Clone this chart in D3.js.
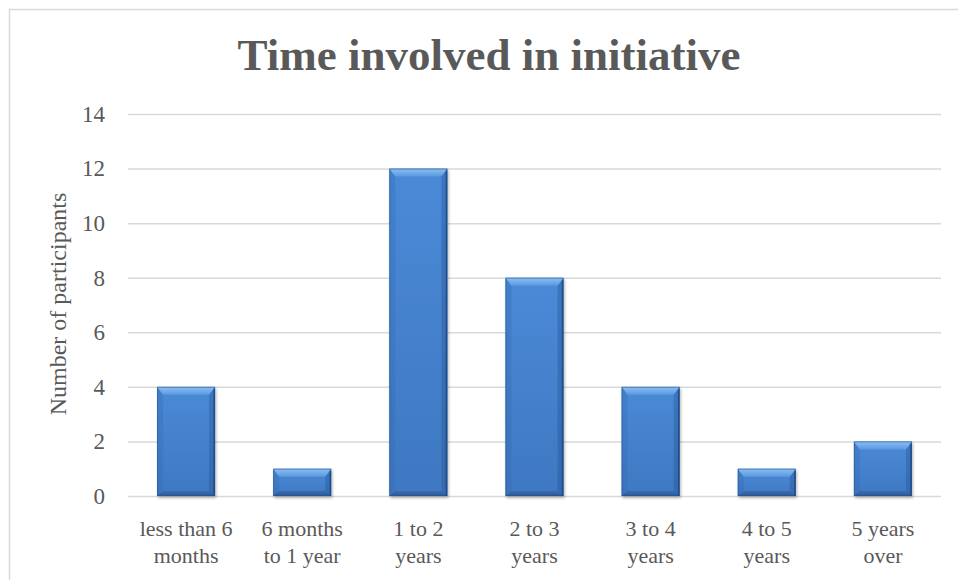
<!DOCTYPE html>
<html>
<head>
<meta charset="utf-8">
<script src="https://cdn.jsdelivr.net/npm/d3@7"></script>
<style>
  html, body { margin: 0; padding: 0; background: #fff; }
  svg { display: block; }
  text { font-family: "Liberation Serif", "DejaVu Serif", serif; fill: #595959; }
</style>
</head>
<body>
<svg id="chart" width="958" height="580"></svg>
<script>
// Participants by length of involvement
const categories = [
  ["less than 6", "months"],
  ["6 months", "to 1 year"],
  ["1 to 2", "years"],
  ["2 to 3", "years"],
  ["3 to 4", "years"],
  ["4 to 5", "years"],
  ["5 years", "over"]
];
const counts = [4, 1, 12, 8, 4, 1, 2];
const yTicks = [0, 2, 4, 6, 8, 10, 12, 14];
const chartTitle = "Time involved in initiative";
const yTitle = "Number of participants";

const svg = d3.select("#chart");
const W = 958, H = 580;
const plot = { left: 128, right: 941, top: 114, bottom: 496 };

// outer chart frame
svg.append("rect")
  .attr("x", 9.5).attr("y", 9.5)
  .attr("width", W + 20).attr("height", H + 20)
  .attr("fill", "#fff").attr("stroke", "#d9d9d9").attr("stroke-width", 1.5);

const x = d3.scaleBand()
  .domain(d3.range(categories.length))
  .range([plot.left, plot.right])
  .paddingInner(0.5).paddingOuter(0.25);

const y = d3.scaleLinear().domain([0, 14]).range([plot.bottom, plot.top]);

// gridlines and y tick labels
const yAxis = d3.axisLeft(y).tickValues(yTicks)
  .tickSize(-(plot.right - plot.left)).tickPadding(23);
const gy = svg.append("g").attr("transform", `translate(${plot.left},0)`).call(yAxis);
gy.select(".domain").remove();
gy.selectAll(".tick line").attr("stroke", "#d9d9d9").attr("stroke-width", 1.5);
gy.selectAll(".tick text")
  .attr("font-family", "Liberation Serif, serif")
  .attr("font-size", 23).attr("fill", "#595959");

// bar gradients
const defs = svg.append("defs");
const body = defs.append("linearGradient").attr("id", "barBody")
  .attr("x1", 0).attr("x2", 0).attr("y1", 0).attr("y2", 1);
body.append("stop").attr("offset", 0).attr("stop-color", "#4a8ad7");
body.append("stop").attr("offset", 1).attr("stop-color", "#3f78c2");
const topG = defs.append("linearGradient").attr("id", "barTop")
  .attr("x1", 0).attr("x2", 0).attr("y1", 0).attr("y2", 1);
topG.append("stop").attr("offset", 0).attr("stop-color", "#8cc0f2");
topG.append("stop").attr("offset", 1).attr("stop-color", "#5a98e0");
const botG = defs.append("linearGradient").attr("id", "barBot")
  .attr("x1", 0).attr("x2", 0).attr("y1", 0).attr("y2", 1);
botG.append("stop").attr("offset", 0).attr("stop-color", "#3a6db3");
botG.append("stop").attr("offset", 1).attr("stop-color", "#2b5894");
const shadow = defs.append("filter").attr("id", "barShadow")
  .attr("x", "-20%").attr("y", "-20%").attr("width", "140%").attr("height", "140%");
shadow.append("feGaussianBlur").attr("in", "SourceAlpha").attr("stdDeviation", 1.5);
shadow.append("feOffset").attr("dx", 1).attr("dy", 2).attr("result", "blur");
shadow.append("feComponentTransfer").append("feFuncA").attr("type", "linear").attr("slope", 0.3);
const merge = shadow.append("feMerge");
merge.append("feMergeNode");
merge.append("feMergeNode").attr("in", "SourceGraphic");

const bars = svg.append("g").selectAll("g.bar")
  .data(counts).join("g").attr("class", "bar")
  .attr("filter", "url(#barShadow)");

bars.each(function (v, i) {
  const g = d3.select(this);
  const x0 = x(i), x1 = x(i) + x.bandwidth();
  const y0 = y(v), y1 = y(0);
  const bt = Math.min(8, (y1 - y0) / 2);   // top bevel depth
  const bs = 6;                             // side bevel width
  const bb = Math.min(5, (y1 - y0) / 3);   // bottom bevel depth
  g.append("rect").attr("x", x0).attr("y", y0)
    .attr("width", x1 - x0).attr("height", y1 - y0).attr("fill", "url(#barBody)");
  const face = (pts, fill, op) => g.append("polygon")
    .attr("points", pts.map(p => p.join(",")).join(" "))
    .attr("fill", fill).attr("fill-opacity", op == null ? 1 : op);
  face([[x0, y0], [x0 + bs, y0 + bt], [x0 + bs, y1 - bb], [x0, y1]], "#2f62a8", 0.25);
  face([[x1, y0], [x1, y1], [x1 - bs, y1 - bb], [x1 - bs, y0 + bt]], "#1f4f90", 0.35);
  face([[x0, y0], [x1, y0], [x1 - bs, y0 + bt], [x0 + bs, y0 + bt]], "url(#barTop)");
  face([[x0, y1], [x0 + bs, y1 - bb], [x1 - bs, y1 - bb], [x1, y1]], "url(#barBot)");
  g.append("rect").attr("x", x0 + 0.5).attr("y", y0 + 0.5)
    .attr("width", x1 - x0 - 1).attr("height", y1 - y0 - 1)
    .attr("fill", "none").attr("stroke", "#27528c").attr("stroke-width", 1).attr("stroke-opacity", 0.55);
  g.append("line").attr("x1", x1 - 1).attr("x2", x1 - 1).attr("y1", y0 + 2).attr("y2", y1)
    .attr("stroke", "#1d4476").attr("stroke-width", 1.5).attr("stroke-opacity", 0.7);
});

// category labels
const xl = svg.append("g").selectAll("text")
  .data(categories).join("text")
  .attr("text-anchor", "middle")
  .attr("font-size", 22)
  .attr("x", (d, i) => x(i) + x.bandwidth() / 2);
xl.append("tspan").attr("x", (d, i) => x(i) + x.bandwidth() / 2).attr("y", 536).text(d => d[0]);
xl.append("tspan").attr("x", (d, i) => x(i) + x.bandwidth() / 2).attr("y", 563).text(d => d[1]);

// axis title
svg.append("text")
  .attr("transform", `translate(66,${(plot.top + plot.bottom) / 2 - 1}) rotate(-90)`)
  .attr("text-anchor", "middle")
  .attr("font-size", 24)
  .text(yTitle);

// chart title
svg.append("text")
  .attr("x", 489).attr("y", 70)
  .attr("text-anchor", "middle")
  .attr("font-size", 45).attr("font-weight", "bold")
  .text(chartTitle);
</script>
</body>
</html>
